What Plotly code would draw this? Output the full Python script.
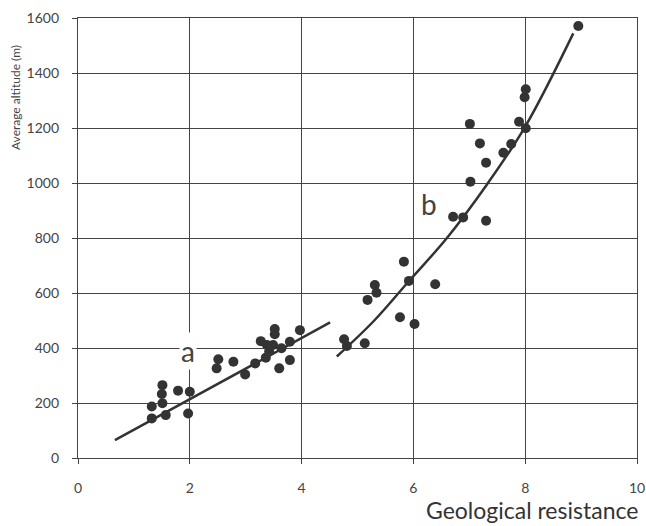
import plotly.graph_objects as go

# Group a data points
a_x = [1.32, 1.32, 1.51, 1.50, 1.51, 1.57, 1.79, 2.00, 1.97,
       2.51, 2.48, 2.78, 2.99, 3.17, 3.27, 3.36, 3.38, 3.42, 3.49,
       3.52, 3.52, 3.60, 3.64, 3.79, 3.79, 3.97]
a_y = [187, 144, 265, 233, 199, 156, 245, 241, 162,
       359, 326, 350, 304, 344, 425, 365, 411, 387, 411,
       469, 450, 326, 399, 423, 356, 465]

# Group b data points
b_x = [4.76, 4.81, 5.13, 5.18, 5.31, 5.34, 5.76, 6.02, 5.83, 5.92, 6.39,
       6.71, 6.89, 7.30, 7.02, 7.30, 7.19, 7.01, 7.61, 7.75, 7.89, 8.01,
       7.99, 8.01, 8.95]
b_y = [432, 407, 417, 575, 629, 601, 512, 487, 714, 644, 632,
       877, 875, 863, 1005, 1074, 1144, 1215, 1110, 1142, 1223, 1199,
       1312, 1341, 1571]

# Fitted curves
line_a_x = [0.66, 4.51]
line_a_y = [65, 493]
line_b_x = [4.63, 5.30, 5.91, 6.60, 7.30, 8.00, 8.86]
line_b_y = [369, 500, 641, 800, 990, 1205, 1544]

# Curve labels
label_text = ["a", "b"]
label_x = [1.97, 6.28]
label_y = [390, 925]

x_ticks = [0, 2, 4, 6, 8, 10]
y_ticks = [0, 200, 400, 600, 800, 1000, 1200, 1400, 1600]

ink = "#333333"
font = "Lato, DejaVu Sans, sans-serif"

fig = go.Figure()
fig.add_trace(go.Scatter(x=line_a_x, y=line_a_y, mode="lines",
                         line=dict(color=ink, width=2.5), showlegend=False))
fig.add_trace(go.Scatter(x=line_b_x, y=line_b_y, mode="lines",
                         line=dict(color=ink, width=2.5, shape="spline"),
                         showlegend=False))
fig.add_trace(go.Scatter(x=a_x, y=a_y, mode="markers",
                         marker=dict(color=ink, size=10), showlegend=False))
fig.add_trace(go.Scatter(x=b_x, y=b_y, mode="markers",
                         marker=dict(color=ink, size=10), showlegend=False))

for t, lx, ly in zip(label_text, label_x, label_y):
    fig.add_annotation(x=lx, y=ly, text=t, showarrow=False,
                       bgcolor="white",
                       font=dict(family=font, size=28, color="#444444"))

fig.add_annotation(xref="paper", yref="paper", x=1.006, y=-0.118,
                   xanchor="right", yanchor="middle", showarrow=False,
                   text="Geological resistance",
                   font=dict(family=font, size=23, color="#333333"))
fig.add_annotation(xref="paper", yref="paper", x=-0.113, y=0.82,
                   xanchor="center", yanchor="middle", showarrow=False,
                   textangle=-90, text="Average altitude (m)",
                   font=dict(family=font, size=12, color="#444444"))

fig.update_xaxes(range=[0, 10], tickvals=x_ticks, showgrid=True,
                 gridcolor="#444444", gridwidth=1.3, zeroline=False,
                 showline=True, linecolor="#444444", linewidth=1.3, mirror=True,
                 ticks="outside", ticklen=5, tickcolor="#444444",
                 automargin=False, ticklabeloverflow="allow",
                 ticklabelstandoff=12,
                 tickfont=dict(family=font, size=14, color="#444444"))
fig.update_yaxes(range=[0, 1600], tickvals=y_ticks, showgrid=True,
                 gridcolor="#444444", gridwidth=1.3, zeroline=False,
                 showline=True, linecolor="#444444", linewidth=1.3, mirror=True,
                 ticks="outside", ticklen=5, tickcolor="#444444",
                 automargin=False, ticklabelstandoff=10,
                 tickfont=dict(family=font, size=14, color="#444444"))

fig.update_layout(width=646, height=526,
                  margin=dict(l=78, r=9, t=18, b=68, autoexpand=False),
                  plot_bgcolor="white", paper_bgcolor="white")

# remove the default 8px page margin so the figure fills the window exactly
fig.write_html("out.html",
               config={"displayModeBar": False},
               post_script="document.body.style.margin='0';"
                           "document.body.style.overflow='hidden';")
